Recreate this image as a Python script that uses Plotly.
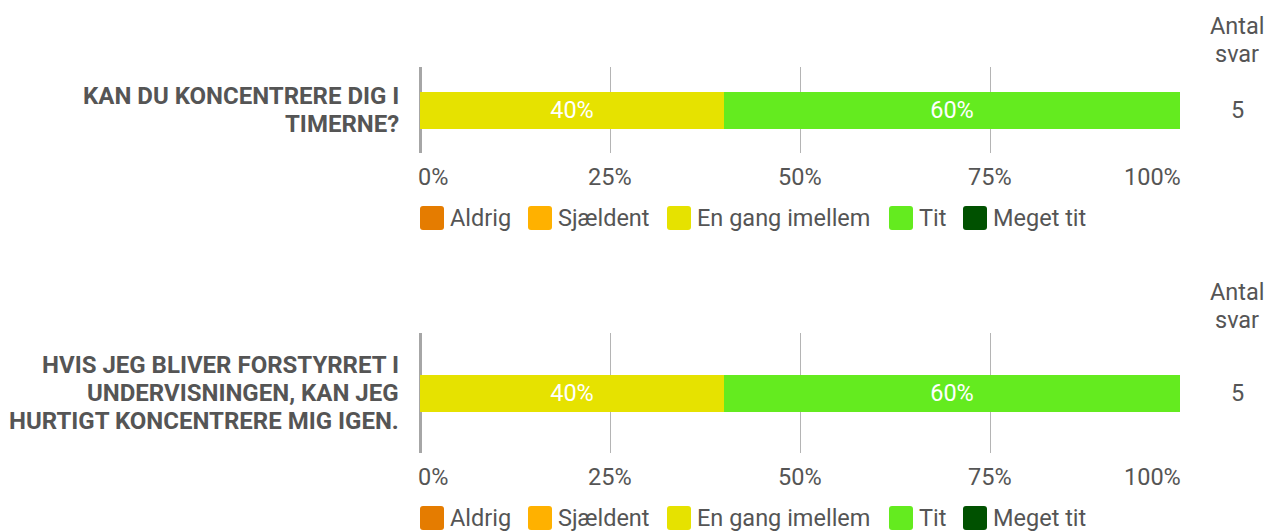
import plotly.graph_objects as go

# ---------------- data ----------------
categories = ["Aldrig", "Sjældent", "En gang imellem", "Tit", "Meget tit"]
questions = [
    "KAN DU KONCENTRERE DIG I<br>TIMERNE?",
    "HVIS JEG BLIVER FORSTYRRET I<br>UNDERVISNINGEN, KAN JEG<br>HURTIGT KONCENTRERE MIG IGEN.",
]
q1_values = [0, 0, 40, 60, 0]
q2_values = [0, 0, 40, 60, 0]
n_responses = [5, 5]
tick_values = [0, 25, 50, 75, 100]
tick_labels = ["0%", "25%", "50%", "75%", "100%"]
count_header = "Antal<br>svar"

# ---------------- style ----------------
colors = ["#e57c00", "#ffb100", "#e6e200", "#64eb1f", "#005100"]
TXT = "#555555"
FONT = "Roboto"
FS = 23.5
FS_BOLD = 24
LINE_PX = 28
W, H = 1267, 532
PX0, PX1 = 420, 1180          # plot area left/right (pixels)
panels = [dict(top=67, bottom=153), dict(top=333, bottom=453)]
BAR_PX = 37
LABEL_RIGHT = 401
COUNT_X = 1237
legend_offsets = [0, 108, 247, 469, 543]   # swatch left offsets from PX0 (px)
SW = 24


def fx(px):
    return px / W


def fy(py):
    return 1 - py / H


annotations = []
shapes = []


def multiline(text, x_px, yc_px, xanchor, size, bold=False):
    lines = text.split("<br>")
    n = len(lines)
    for k, line in enumerate(lines):
        y = yc_px + (k - (n - 1) / 2) * LINE_PX
        annotations.append(dict(
            text=f"<b>{line}</b>" if bold else line,
            x=fx(x_px), y=fy(y), xref="paper", yref="paper",
            xanchor=xanchor, yanchor="middle", showarrow=False,
            font=dict(family=FONT, size=size, color=TXT)))


fig = go.Figure()
all_values = [q1_values, q2_values]

for i, (vals, panel) in enumerate(zip(all_values, panels)):
    xa = "x" if i == 0 else f"x{i + 1}"
    ya = "y" if i == 0 else f"y{i + 1}"
    height_px = panel["bottom"] - panel["top"]
    for cat, v, col in zip(categories, vals, colors):
        fig.add_trace(go.Bar(
            x=[v], y=[0], orientation="h", name=cat,
            marker=dict(color=col, line=dict(width=0)),
            width=BAR_PX / height_px,
            text=[f"{v}%" if v > 0 else ""],
            textposition="inside", insidetextanchor="middle",
            textfont=dict(color="white", size=FS, family=FONT),
            xaxis=xa, yaxis=ya, showlegend=False, hoverinfo="skip",
        ))
    axkey = "xaxis" if i == 0 else f"xaxis{i + 1}"
    aykey = "yaxis" if i == 0 else f"yaxis{i + 1}"
    fig.update_layout(**{
        axkey: dict(domain=[fx(PX0), fx(PX1)], range=[0, 100], anchor=ya,
                    tickvals=tick_values, showticklabels=False, ticks="",
                    showgrid=True, gridcolor="#b4b4b4", gridwidth=1,
                    zeroline=True, zerolinecolor="#a6a6a6", zerolinewidth=2.5,
                    showline=False, fixedrange=True),
        aykey: dict(domain=[fy(panel["bottom"]), fy(panel["top"])],
                    range=[-0.5, 0.5], anchor=xa, showticklabels=False,
                    showgrid=False, zeroline=False, showline=False, fixedrange=True),
    })

    mid = (panel["top"] + panel["bottom"]) / 2
    # question label
    multiline(questions[i], LABEL_RIGHT, mid, "right", FS_BOLD, bold=True)
    # count header and count
    multiline(count_header, COUNT_X, panel["top"] - 27, "center", FS)
    multiline(str(n_responses[i]), COUNT_X, mid, "center", FS)
    # tick labels
    for k, (tv, tl) in enumerate(zip(tick_values, tick_labels)):
        last = len(tick_values) - 1
        anchor = "left" if k == 0 else ("right" if k == last else "center")
        shift = -4 if k == 0 else (3 if k == last else 0)
        annotations.append(dict(
            text=tl, x=tv, y=fy(panel["bottom"] + 24), xref=xa, yref="paper",
            xanchor=anchor, yanchor="middle", showarrow=False, xshift=shift,
            font=dict(family=FONT, size=FS, color=TXT)))
    # custom legend
    ly = panel["bottom"] + 65
    h = SW / 2
    r = 3
    path = (f"M{-h + r},{-h} L{h - r},{-h} Q{h},{-h} {h},{-h + r} L{h},{h - r} "
            f"Q{h},{h} {h - r},{h} L{-h + r},{h} Q{-h},{h} {-h},{h - r} "
            f"L{-h},{-h + r} Q{-h},{-h} {-h + r},{-h} Z")
    for cat, col, off in zip(categories, colors, legend_offsets):
        cx = PX0 + off + h
        shapes.append(dict(
            type="path", xref="paper", yref="paper", xsizemode="pixel", ysizemode="pixel",
            xanchor=fx(cx), yanchor=fy(ly), path=path,
            fillcolor=col, line=dict(width=0)))
        annotations.append(dict(
            text=cat, x=fx(PX0 + off + SW + 4), y=fy(ly), xref="paper", yref="paper",
            xanchor="left", yanchor="middle", showarrow=False,
            font=dict(family=FONT, size=FS, color=TXT)))

fig.update_layout(
    width=W, height=H, margin=dict(l=0, r=0, t=0, b=0),
    paper_bgcolor="white", plot_bgcolor="white",
    barmode="stack", showlegend=False,
    annotations=annotations, shapes=shapes,
    font=dict(family=FONT, color=TXT),
)

fig.write_html("out.html", config={"displayModeBar": False},
               post_script="document.body.style.margin='0px';")
